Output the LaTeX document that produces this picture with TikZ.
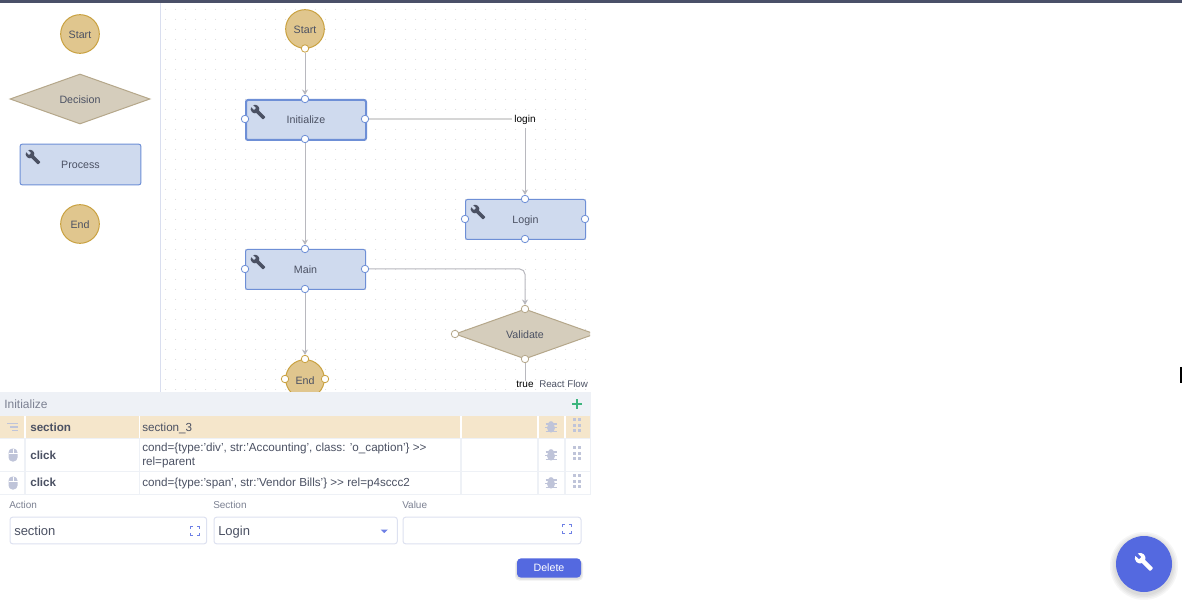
\documentclass[tikz,border=0pt]{standalone}
\usepackage{fontspec}
\setmainfont{Liberation Sans}
\usepackage{xcolor}
\usetikzlibrary{positioning, shapes.geometric, calc, arrows.meta}

\definecolor{barcol}{HTML}{4A5068}
\definecolor{inkcol}{HTML}{4B5163}
\definecolor{sidecol}{HTML}{D9DEEF}
\definecolor{circfill}{HTML}{E0C68E}
\definecolor{circline}{HTML}{C9A13F}
\definecolor{diafill}{HTML}{D5CDBC}
\definecolor{dialine}{HTML}{B5A78A}
\definecolor{procfill}{HTML}{CFDAEE}
\definecolor{procline}{HTML}{6E8FD6}
\definecolor{edgecol}{HTML}{B8B8BE}
\definecolor{panelcol}{HTML}{EEF1F6}
\definecolor{rowcol}{HTML}{F5E6CB}
\definecolor{iconcol}{HTML}{BFC4D9}
\definecolor{fieldcol}{HTML}{DDE1F0}
\definecolor{bluecol}{HTML}{5469E0}
\definecolor{labelcol}{HTML}{7C8192}
\definecolor{pluscol}{HTML}{3DB57E}

\tikzset{
	startend/.style={circle, draw=circline, fill=circfill, line width=0.75pt, minimum size=29pt, inner sep=0pt, text=inkcol, text height=7.5pt, text depth=0pt, font=\fontsize{8}{10}\selectfont},
	decision/.style={diamond, aspect=2.8, draw=dialine, fill=diafill, line width=0.75pt, minimum width=105pt, minimum height=37.5pt, inner sep=0pt, text=inkcol, text height=7.5pt, text depth=0pt, font=\fontsize{8}{10}\selectfont},
	process/.style={rectangle, rounded corners=1.5pt, draw=procline, fill=procfill, line width=0.75pt, minimum width=90pt, minimum height=30pt, inner sep=0pt, text=inkcol, text height=6pt, text depth=0pt, font=\fontsize{8}{10}\selectfont},
	portc/.style={circle, draw=circline, fill=white, line width=0.6pt, minimum size=5.6pt, inner sep=0pt},
	portd/.style={portc, draw=dialine},
	portp/.style={portc, draw=procline},
	edge/.style={draw=edgecol, line width=0.75pt, -{Stealth[length=4pt, width=4.5pt]}},
	celltext/.style={anchor=west, inner sep=0pt, text=inkcol, font=\fontsize{8.75}{11.2}\selectfont},
	cellbold/.style={celltext, font=\fontsize{8.75}{11}\selectfont\bfseries},
	formlabel/.style={anchor=west, inner sep=0pt, text=labelcol, font=\fontsize{7.5}{9}\selectfont},
	formfield/.style={rectangle, rounded corners=2pt, draw=fieldcol, fill=white, line width=0.75pt, inner sep=0pt, minimum height=20pt},
	formvalue/.style={anchor=west, inner sep=0pt, text=inkcol, font=\fontsize{9.75}{12}\selectfont},
	pics/wrenchicon/.style={code={
		\fill[pic actions] (22.7,19) -- (13.6,9.9) .. controls (14.5,7.6) and (14,4.9) .. (12.1,3)
			.. controls (10.1,1) and (7.1,.6) .. (4.7,1.7) -- (9,6) -- (6,9) -- (1.6,4.7)
			.. controls (.4,7.1) and (.9,10.1) .. (2.9,12.1) .. controls (4.8,14) and (7.5,14.5) .. (9.8,13.6)
			-- (18.9,22.7) .. controls (19.3,23.1) and (19.9,23.1) .. (20.3,22.7) -- (22.6,20.4)
			.. controls (23.1,20) and (23.1,19.3) .. (22.7,19) -- cycle;
	}},
	pics/bugicon/.style={code={
		\fill[iconcol] (0,0.8) ellipse (4 and 4.8);
		\fill[iconcol] (0,-3.6) ellipse (2.6 and 2.2);
		\draw[iconcol, line width=0.9pt] (-5.5,-3) -- (5.5,-3) (-5.8,0.8) -- (5.8,0.8) (-5.5,4.3) -- (5.5,4.3);
	}},
	pics/gripicon/.style={code={
		\foreach \gx in {-2.8,2.8} \foreach \gy in {-5.5,0,5.5}
			\fill[iconcol] (\gx-1.5,\gy-1.5) rectangle (\gx+1.5,\gy+1.5);
	}},
	pics/mouseicon/.style={code={
		\fill[iconcol, rounded corners=3pt] (-4.5,-6.5) rectangle (4.5,6.5);
		\draw[white, line width=0.5pt] (-4.5,-1.5) -- (4.5,-1.5) (0,-6.5) -- (0,-1.5);
	}},
	pics/expandicon/.style={code={
		\draw[bluecol!85, line width=1.3pt] (-4.5,-2) -- (-4.5,-4.5) -- (-2,-4.5) (2,-4.5) -- (4.5,-4.5) -- (4.5,-2)
			(4.5,2) -- (4.5,4.5) -- (2,4.5) (-2,4.5) -- (-4.5,4.5) -- (-4.5,2);
	}},
}

\begin{document}
\begin{tikzpicture}[x=0.75pt, y=-0.75pt]
	\useasboundingbox (0,0) rectangle (1182,602);
	\fill[white] (0,0) rectangle (1182,602);
	\fill[barcol] (0,0) rectangle (1182,3.5);
	\draw[sidecol, line width=0.75pt] (160.5,3.5) -- (160.5,392);

	% palette
	\node[startend] (palStart) at (80,34) {Start};
	\node[decision] (palDecision) at (80,99) {Decision};
	\node[process, minimum width=90.5pt, minimum height=30.5pt] (palProcess) at (80.5,164.5) {Process};
	\node[startend] (palEnd) at (80,224) {End};
	\pic[fill=inkcol, scale=0.667] at (25,149) {wrenchicon};

	% canvas
	\begin{scope}
		\clip (161,3.5) rectangle (590,392);
		\foreach \x in {165.5,175.5,...,585.5} \foreach \y in {9.5,19.5,...,389.5}
			\fill[black!15] (\x,\y) circle (0.5);

		\node[startend] (start) at (305,29) {Start};
		\node[process, line width=1.5pt] (initialize) at (306,120) {Initialize};
		\node[process] (login) at (525.5,219.5) {Login};
		\node[process] (main) at (305.5,269.5) {Main};
		\node[decision] (validate) at (525,334) {Validate};
		\node[startend] (end) at (305,379) {End};

		\pic[fill=inkcol, scale=0.667] at (250,104) {wrenchicon};
		\pic[fill=inkcol, scale=0.667] at (470,204) {wrenchicon};
		\pic[fill=inkcol, scale=0.667] at (250,254) {wrenchicon};

		\node[portc] (startB) at (305,48.5) {};
		\node[portp] (initT) at (305,99) {};
		\node[portp] (initL) at (245,119) {};
		\node[portp] (initR) at (365,119) {};
		\node[portp] (initB) at (305,139) {};
		\node[portp] (loginT) at (525,199) {};
		\node[portp] (loginL) at (465,219) {};
		\node[portp] (loginR) at (585,219) {};
		\node[portp] (loginB) at (525,239) {};
		\node[portp] (mainT) at (305,249) {};
		\node[portp] (mainL) at (245,269) {};
		\node[portp] (mainR) at (365,269) {};
		\node[portp] (mainB) at (305,289) {};
		\node[portd] (valT) at (525,309) {};
		\node[portd] (valL) at (455,334) {};
		\node[portd] (valB) at (525,359) {};
		\node[portc] (endT) at (305,359) {};
		\node[portc] (endL) at (285,379) {};
		\node[portc] (endR) at (325,379) {};

		\node[inner sep=1.5pt, text=black, font=\fontsize{7.5}{9}\selectfont] (loginEdge) at (525,119.5) {login};
		\node[inner sep=0pt, text=black, font=\fontsize{7.5}{9}\selectfont] (trueEdge) at (525,384.5) {true};
		\node[anchor=west, inner sep=0pt, text=inkcol, font=\fontsize{7.3}{9}\selectfont] (brand) at (539,384.5) {React Flow};

		\draw[edge] (startB) -- (initT);
		\draw[edge] (initB) -- (mainT);
		\draw[edge] (mainB) -- (endT);
		\draw[draw=black!16, line width=1.5pt] (initR) -- (initR -| loginEdge.west);
		\draw[edge] (loginEdge.south) ++(0,2) -- (loginT);
		\draw[edge, rounded corners=4pt] (mainR) -| (valT);
		\draw[draw=edgecol, line width=0.75pt] (valB) -- (trueEdge.north);
	\end{scope}

	% action table
	\fill[panelcol] (0,392) rectangle (590.5,416);
	\node[anchor=west, inner sep=0pt, text=labelcol, font=\fontsize{9}{11}\selectfont] (panelTitle) at (4,404) {Initialize};
	\draw[pluscol, line width=1.2pt] (572,404) -- (582,404) (577,399) -- (577,409);
	\fill[rowcol] (0,416) rectangle (590.5,438);
	\draw[panelcol, line width=0.9pt] (0,438.5) -- (590.5,438.5) (0,471.5) -- (590.5,471.5) (0,494.5) -- (590.5,494.5) (590.5,416) -- (590.5,494.5);
	\foreach \x in {25,139.5,461,538,565} {
		\draw[white, line width=0.9pt] (\x,416) -- (\x,438);
		\draw[panelcol, line width=0.9pt] (\x,438.5) -- (\x,494.5);
	}
	\draw[iconcol, line width=1pt] (7,423.5) -- (18,423.5) (10,427) -- (18,427) (12,430.5) -- (18,430.5);
	\pic at (13,455) {mouseicon};
	\pic at (13,483) {mouseicon};
	\foreach \y in {427,455,483} {
		\pic at (551,\y) {bugicon};
		\pic at (577,\y-2) {gripicon};
	}
	\node[cellbold] (rowA) at (30,427) {section};
	\node[celltext] (rowAval) at (142,428) {section\_3};
	\node[cellbold] (rowB) at (30,455) {click};
	\node[celltext, align=left] (rowBval) at (142,455.5) {cond=\{type:'div', str:'Accounting', class: 'o\_caption'\} >{}>\\rel=parent};
	\node[cellbold] (rowC) at (30,482) {click};
	\node[celltext] (rowCval) at (142,483) {cond=\{type:'span', str:'Vendor Bills'\} >{}> rel=p4sccc2};

	% form
	\node[formlabel] (actionLabel) at (9,505) {Action};
	\node[formlabel] (sectionLabel) at (213,505) {Section};
	\node[formlabel] (valueLabel) at (402,505) {Value};
	\node[formfield, anchor=west, minimum width=147.5pt] (actionField) at (9.5,530.5) {};
	\node[formfield, anchor=west, minimum width=137.5pt] (sectionField) at (213.5,530.5) {};
	\node[formfield, anchor=west, minimum width=133.5pt] (valueField) at (402.5,530.5) {};
	\node[formvalue] (actionValue) at (14,531) {section};
	\node[formvalue] (sectionValue) at (218,532) {Login};
	\pic at (195,531) {expandicon};
	\pic at (567,529) {expandicon};
	\fill[bluecol!85] (380.5,529.5) -- (388,529.5) -- (384.25,533) -- cycle;

	\foreach \s in {2,1}
		\fill[black, opacity=0.06, rounded corners=3pt] (517-\s,560) rectangle (581+\s,578.5+\s);
	\node[rectangle, rounded corners=3pt, fill=bluecol, text=white, minimum width=48pt, minimum height=14.5pt, inner sep=0pt, font=\fontsize{8}{10}\selectfont] (delete) at (549,568) {Delete};

	\foreach \s in {6,4.5,3,1.5}
		\fill[black, opacity=0.035] (1144,566) circle (28+\s);
	\node[circle, fill=bluecol, minimum size=42pt, inner sep=0pt] (fab) at (1144,564) {};
	\pic[fill=white, scale=0.82] at (1134,552) {wrenchicon};

	\draw[black, line width=1pt] (1181,367) -- (1181,383);
\end{tikzpicture}
\end{document}
